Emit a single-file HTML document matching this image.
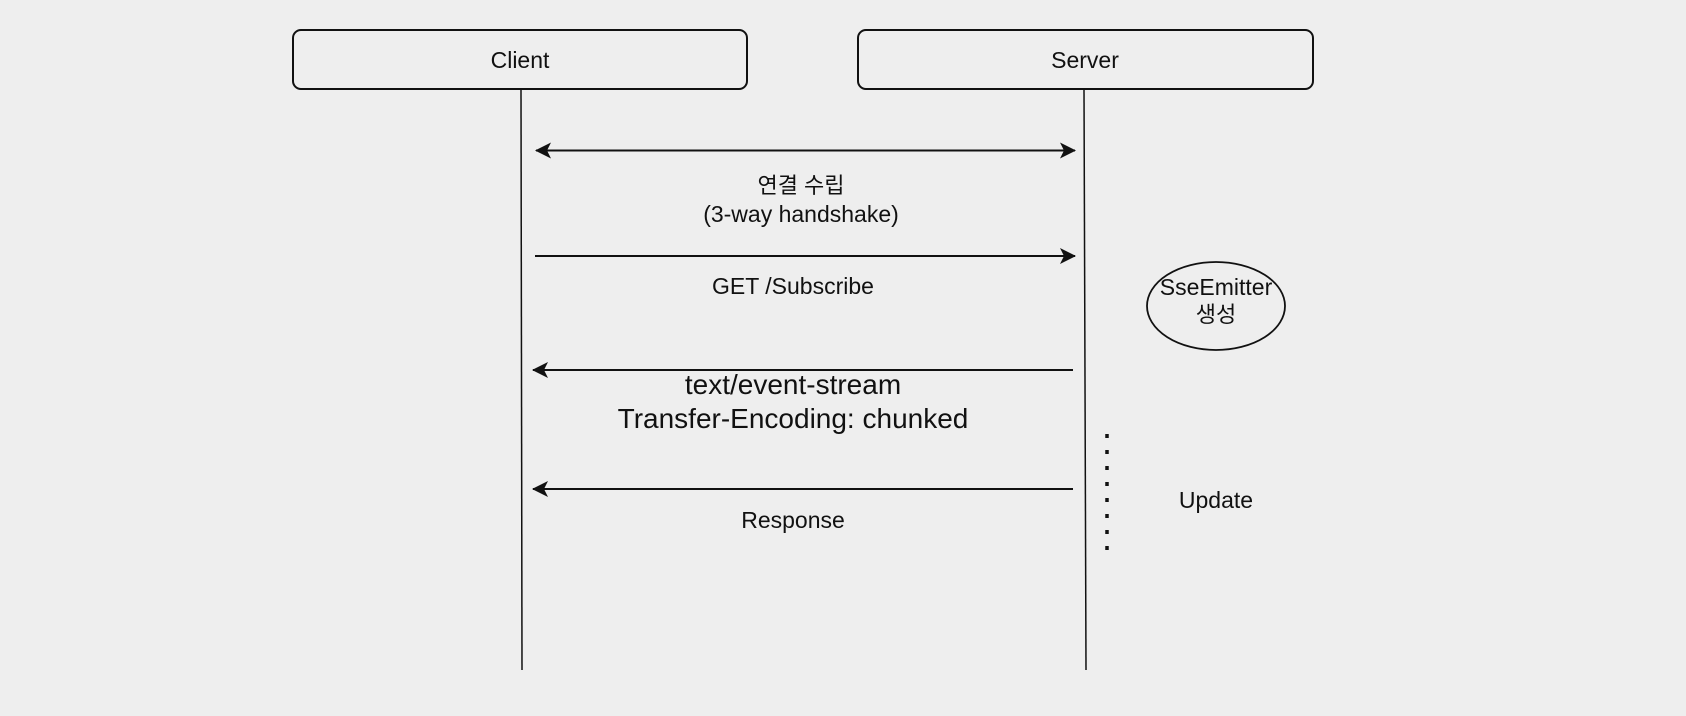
<!DOCTYPE html>
<html><head><meta charset="utf-8"><style>
html,body{margin:0;padding:0;background:#eeeeee;}
svg{display:block;}
text{font-family:"Liberation Sans","Noto Sans CJK KR",sans-serif;fill:#111;text-anchor:middle;}
</style></head><body>
<svg width="1686" height="716" viewBox="0 0 1686 716" xmlns="http://www.w3.org/2000/svg">
<rect width="1686" height="716" fill="#eeeeee"/>
<defs>
<marker id="ah" markerWidth="18" markerHeight="16" refX="15" refY="8" orient="auto-start-reverse" markerUnits="userSpaceOnUse">
<path d="M0,0 L16,8 L0,16 L4,8 Z" fill="#111"/>
</marker>
</defs>
<rect x="293" y="30" width="454" height="59" rx="8" fill="#eeeeee" stroke="#111" stroke-width="2"/>
<rect x="858" y="30" width="455" height="59" rx="8" fill="#eeeeee" stroke="#111" stroke-width="2"/>
<text x="520" y="68" font-size="23">Client</text>
<text x="1085" y="68" font-size="23">Server</text>
<line x1="521" y1="89" x2="522" y2="670" stroke="#111" stroke-width="1.5"/>
<line x1="1084" y1="89" x2="1086" y2="670" stroke="#111" stroke-width="1.5"/>
<line x1="536" y1="150.5" x2="1075" y2="150.5" stroke="#111" stroke-width="2" marker-start="url(#ah)" marker-end="url(#ah)"/>
<text x="801" y="193" font-size="22">연결 수립</text>
<text x="801" y="222" font-size="23">(3-way handshake)</text>
<line x1="535" y1="256" x2="1075" y2="256" stroke="#111" stroke-width="2" marker-end="url(#ah)"/>
<text x="793" y="294" font-size="23">GET /Subscribe</text>
<ellipse cx="1216" cy="306" rx="69" ry="44" fill="none" stroke="#111" stroke-width="1.8"/>
<text x="1216" y="295" font-size="23">SseEmitter</text>
<text x="1216" y="322" font-size="22">생성</text>
<line x1="1073" y1="370" x2="533" y2="370" stroke="#111" stroke-width="2" marker-end="url(#ah)"/>
<text x="793" y="394" font-size="28">text/event-stream</text>
<text x="793" y="428" font-size="28">Transfer-Encoding: chunked</text>
<line x1="1107" y1="434" x2="1107" y2="550" stroke="#111" stroke-width="3.5" stroke-dasharray="4,12"/>
<line x1="1073" y1="489" x2="533" y2="489" stroke="#111" stroke-width="2" marker-end="url(#ah)"/>
<text x="793" y="528" font-size="23">Response</text>
<text x="1216" y="508" font-size="23">Update</text>
</svg>
</body></html>
